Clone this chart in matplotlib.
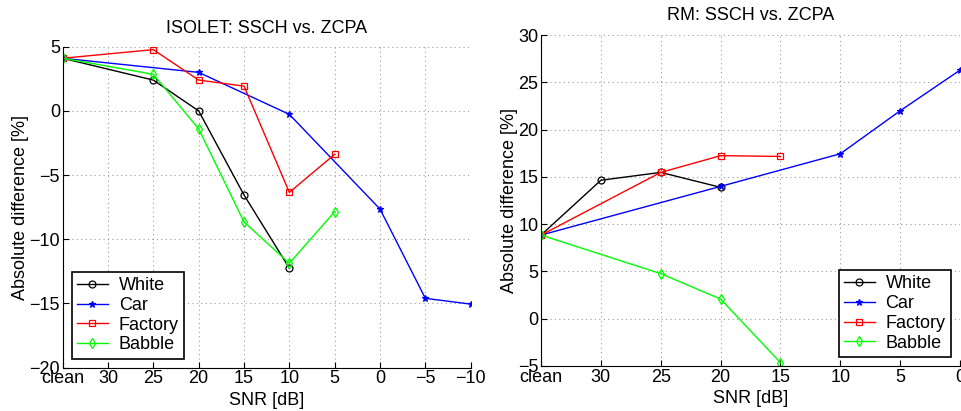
import numpy as np
import matplotlib
matplotlib.use("Agg")
import matplotlib.pyplot as plt

plt.rcParams['font.family'] = ['Liberation Sans', 'DejaVu Sans']

# x categories
snr_isolet = ['clean', '30', '25', '20', '15', '10', '5', '0', '-5', '-10']
snr_rm = ['clean', '30', '25', '20', '15', '10', '5', '0']

# ISOLET: SSCH vs. ZCPA
isolet_white_x = ['clean', '25', '20', '15', '10']
isolet_white_y = [4.1, 2.4, 0.0, -6.55, -12.25]
isolet_car_x = ['clean', '20', '10', '0', '-5', '-10']
isolet_car_y = [4.1, 3.0, -0.27, -7.65, -14.6, -15.05]
isolet_factory_x = ['clean', '25', '20', '15', '10', '5']
isolet_factory_y = [4.1, 4.77, 2.4, 1.93, -6.35, -3.38]
isolet_babble_x = ['clean', '25', '20', '15', '10', '5']
isolet_babble_y = [4.1, 2.85, -1.4, -8.65, -11.87, -7.85]

# RM: SSCH vs. ZCPA
rm_white_x = ['clean', '30', '25', '20']
rm_white_y = [8.85, 14.65, 15.48, 13.9]
rm_car_x = ['clean', '20', '10', '5', '0']
rm_car_y = [8.85, 14.0, 17.45, 22.0, 26.3]
rm_factory_x = ['clean', '25', '20', '15']
rm_factory_y = [8.85, 15.48, 17.25, 17.17]
rm_babble_x = ['clean', '25', '20', '15']
rm_babble_y = [8.85, 4.77, 2.08, -4.65]

labels = ['White', 'Car', 'Factory', 'Babble']
styles = [dict(color='k', marker='o', mfc='none', ms=5),
          dict(color='#0000ff', marker='*', ms=5),
          dict(color='#ff0000', marker='s', mfc='none', ms=4.2),
          dict(color='#00ff00', marker='d', mfc='none', ms=5)]


def to_pos(cats, xs):
    return [cats.index(v) for v in xs]


def fmt_label(s):
    return s.replace('-', '\u2212')


def draw(ax, cats, series, title, ylim, yticks, legend_loc, title_pad):
    for (xs, ys), lab, st in zip(series, labels, styles):
        ax.plot(to_pos(cats, xs), ys, linewidth=1, label=lab, mew=0.9, **st)
    ax.set_xlim(0, len(cats) - 1)
    ax.set_ylim(*ylim)
    ax.set_xticks(np.arange(len(cats)))
    ax.set_xticklabels([fmt_label(c) for c in cats])
    ax.set_yticks(yticks)
    ax.grid(True, color='#999999', linestyle=(0, (1, 3)), linewidth=0.8)
    ax.spines['top'].set_visible(False)
    ax.spines['right'].set_visible(False)
    ax.tick_params(direction='in', labelsize=13, length=4, pad=2)
    ax.set_xlabel('SNR [dB]', fontsize=13, labelpad=3)
    ax.set_ylabel('Absolute difference [%]', fontsize=13, labelpad=0)
    ax.set_title(title, fontsize=13, pad=title_pad)
    leg = ax.legend(loc=legend_loc, fontsize=13, fancybox=False, framealpha=1,
                    edgecolor='k', handlelength=1.7, borderpad=0.3,
                    labelspacing=0.15, handletextpad=0.6)
    leg.get_frame().set_linewidth(1.2)


fig = plt.figure(figsize=(9.61, 4.11), dpi=100)
ax1 = fig.add_axes([0.0652, 0.1054, 0.4246, 0.781])
ax2 = fig.add_axes([0.563, 0.1095, 0.436, 0.805])

draw(ax1, snr_isolet,
     [(isolet_white_x, isolet_white_y), (isolet_car_x, isolet_car_y),
      (isolet_factory_x, isolet_factory_y), (isolet_babble_x, isolet_babble_y)],
     'ISOLET: SSCH vs. ZCPA', (-20, 5), np.arange(-20, 6, 5), 'lower left', 10)
draw(ax2, snr_rm,
     [(rm_white_x, rm_white_y), (rm_car_x, rm_car_y),
      (rm_factory_x, rm_factory_y), (rm_babble_x, rm_babble_y)],
     'RM: SSCH vs. ZCPA', (-5, 30), np.arange(-5, 31, 5), 'lower right', 11)

fig.savefig('out.png', dpi=100)
